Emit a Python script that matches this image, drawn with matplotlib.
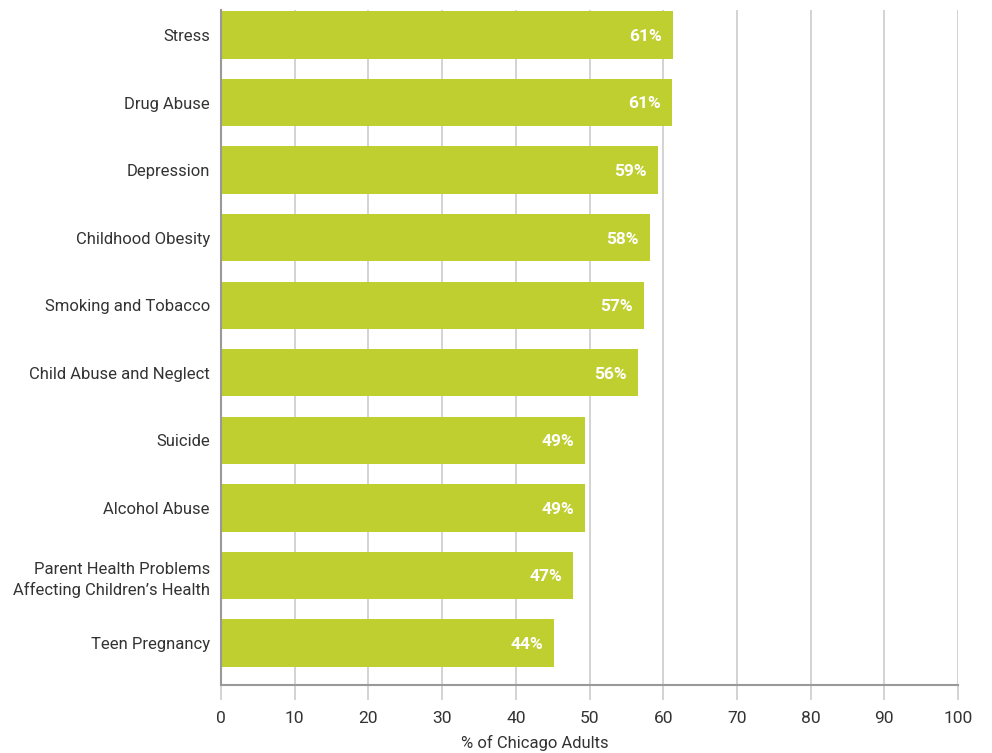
import matplotlib.pyplot as plt
import numpy as np

plt.rcParams['font.family'] = ['Roboto', 'DejaVu Sans']

categories = [
    "Stress",
    "Drug Abuse",
    "Depression",
    "Childhood Obesity",
    "Smoking and Tobacco",
    "Child Abuse and Neglect",
    "Suicide",
    "Alcohol Abuse",
    "Parent Health Problems\nAffecting Children\u2019s Health",
    "Teen Pregnancy",
]
values = [61.3, 61.2, 59.3, 58.2, 57.4, 56.6, 49.4, 49.4, 47.8, 45.2]
value_labels = ["61%", "61%", "59%", "58%", "57%", "56%", "49%", "49%", "47%", "44%"]
xticks = [0, 10, 20, 30, 40, 50, 60, 70, 80, 90, 100]

bar_color = "#c0cf30"
text_color = "#333333"
grid_color = "#cccccc"
axis_color = "#999999"

fig = plt.figure(figsize=(9.92, 7.53), dpi=100)
ax = fig.add_axes([221 / 992, 1 - 685 / 753, 737 / 992, 675 / 753])

y = np.arange(len(categories))
ax.barh(y, values, height=0.7, color=bar_color, zorder=2)

for yi, v, lab in zip(y, values, value_labels):
    ax.annotate(lab, (v, yi), xytext=(-8, -1), textcoords="offset points",
                ha="right", va="center", color="white", fontsize=12.5,
                fontweight="bold", zorder=3)

ax.set_xlim(0, 100)
ax.set_ylim(9.62, -0.37)
ax.set_yticks(y)
ax.set_yticklabels(categories, fontsize=12, color=text_color, linespacing=1.45)
ax.set_xticks(xticks)
ax.set_xticklabels([str(t) for t in xticks], fontsize=12.5, color=text_color)

ax.xaxis.grid(True, color=grid_color, linewidth=1.2, zorder=0)
ax.set_axisbelow(True)
ax.tick_params(axis="y", length=0, pad=8)
ax.tick_params(axis="x", length=11, width=1.2, color=grid_color, pad=8)

for s in ["top", "right"]:
    ax.spines[s].set_visible(False)
for s in ["left", "bottom"]:
    ax.spines[s].set_color(axis_color)
    ax.spines[s].set_linewidth(1.5)

ax.set_xlabel("% of Chicago Adults", fontsize=12, color=text_color, x=0.426, labelpad=6)

fig.savefig("out.png", dpi=100)
